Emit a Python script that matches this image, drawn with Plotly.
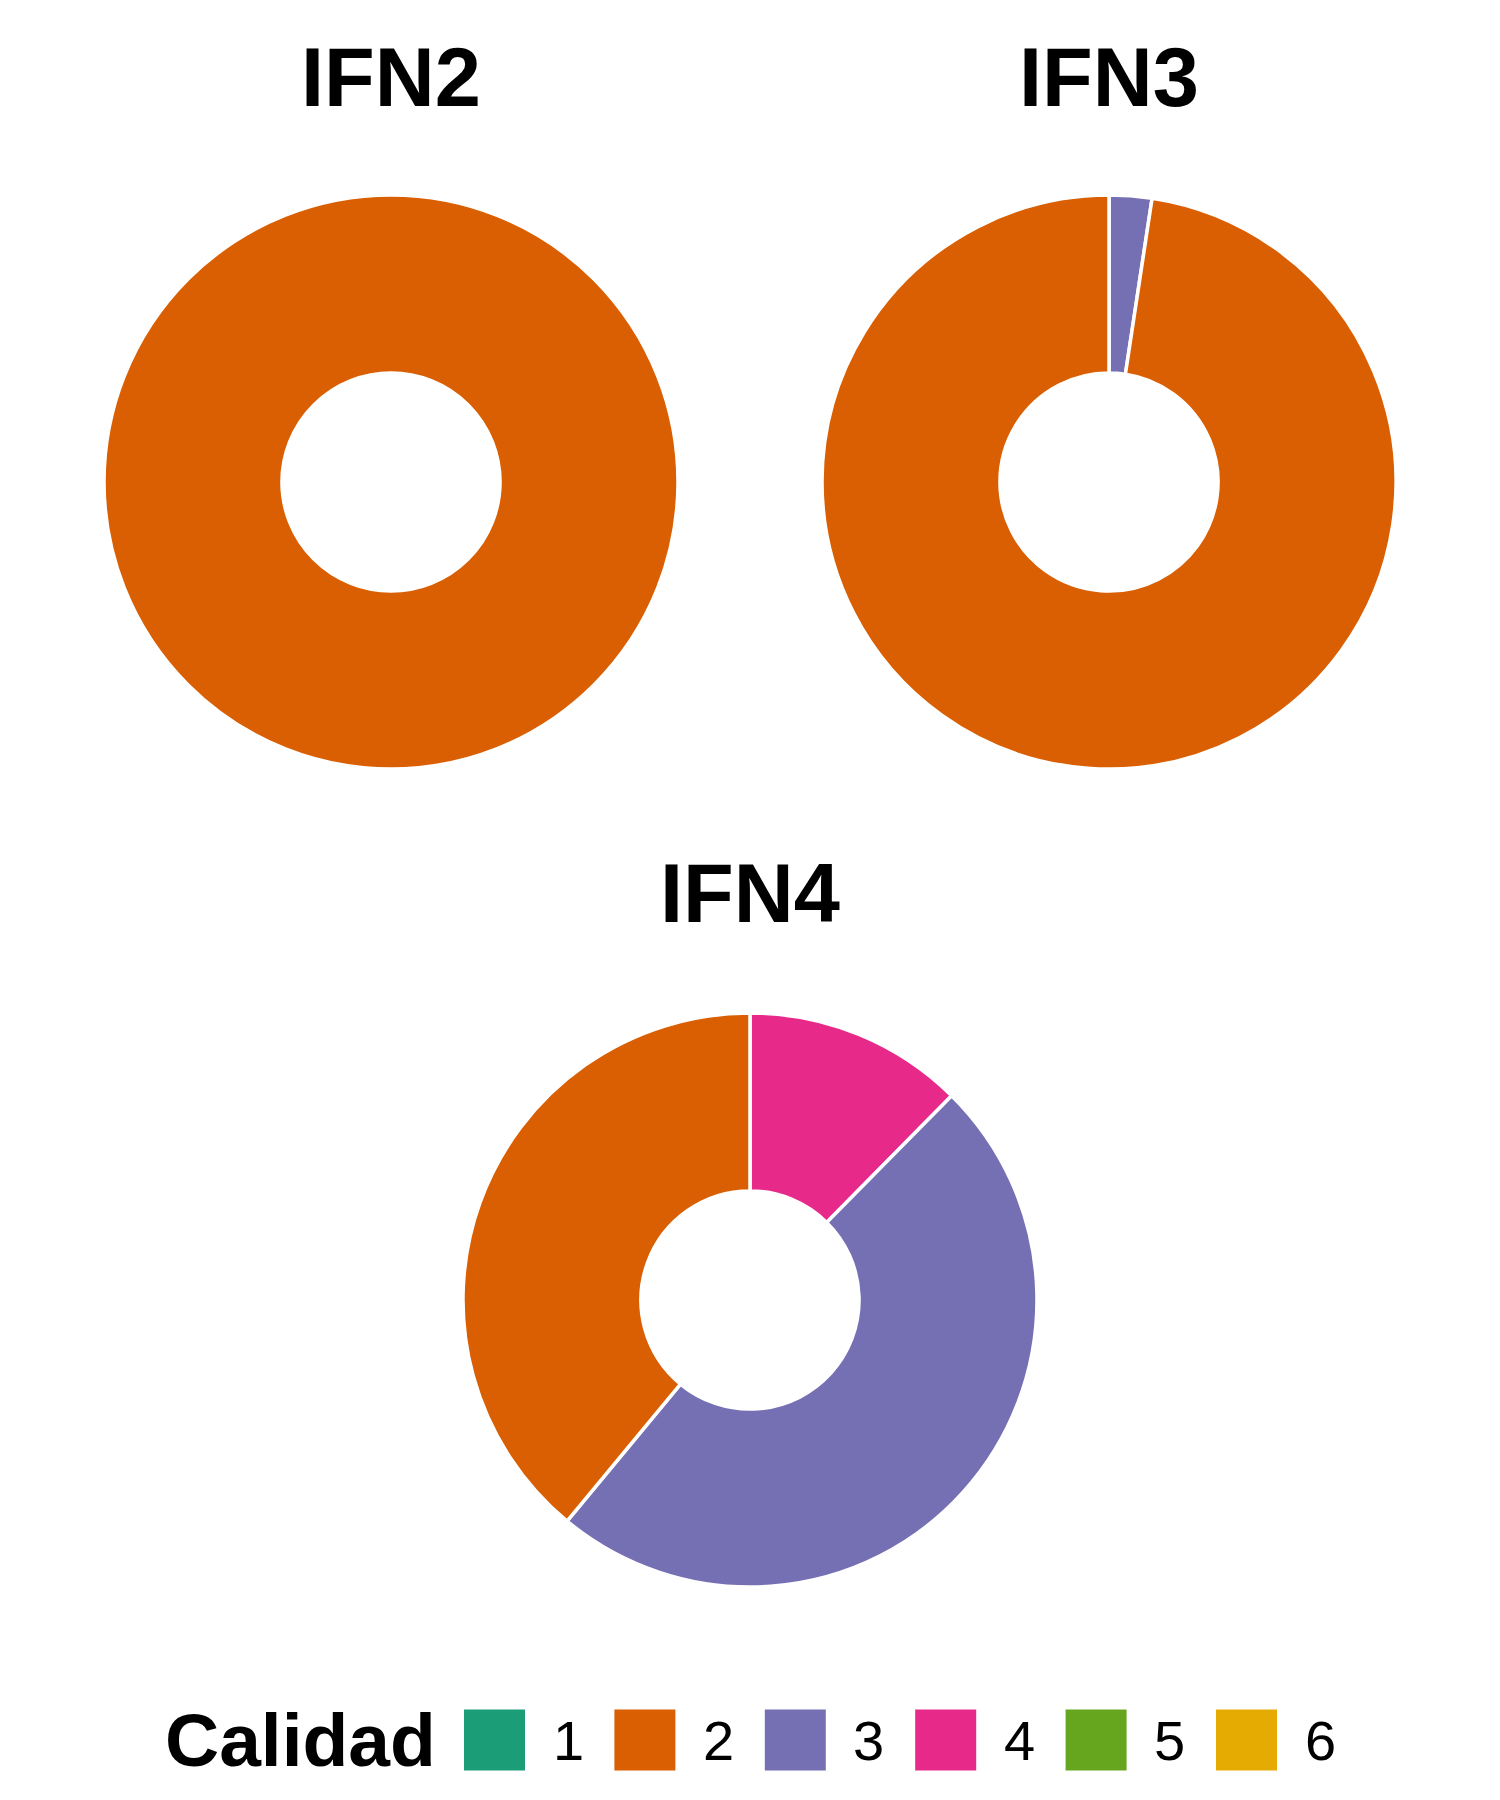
import plotly.graph_objects as go

# ---- data ----
categorias = ["1", "2", "3", "4", "5", "6"]
colores = ["#1B9E77", "#D95F02", "#7570B3", "#E7298A", "#66A61E", "#E6AB02"]
inventarios = ["IFN2", "IFN3", "IFN4"]
ifn2 = [0, 100.0, 0, 0, 0, 0]
ifn3 = [0, 97.6, 2.4, 0, 0, 0]
ifn4 = [0, 39.0, 48.6, 12.4, 0, 0]
valores = [ifn2, ifn3, ifn4]

W, H = 1500, 1800
FONT = "Liberation Sans, Arial, Helvetica, sans-serif"

def px(x):
    return x / W

def py(y):
    return 1 - y / H

# donut placement (pixel centres, radius)
centros = [(391, 482), (1109, 482), (750, 1300)]
R = 287
titulo_y = [77, 77, 893]

fig = go.Figure()
for nombre, vals, (cx, cy) in zip(inventarios, valores, centros):
    labs, vs, cols = [], [], []
    # clockwise from 12 o'clock: highest category first
    for c, v, col in reversed(list(zip(categorias, vals, colores))):
        if v > 0:
            labs.append(c)
            vs.append(v)
            cols.append(col)
    fig.add_trace(go.Pie(
        labels=labs, values=vs, sort=False, direction="clockwise", rotation=0,
        hole=0.38, textinfo="none", showlegend=False, name=nombre,
        marker=dict(colors=cols, line=dict(color="white", width=3.5)),
        domain=dict(x=[px(cx - R), px(cx + R)], y=[py(cy + R), py(cy - R)]),
    ))

annotations = []
for nombre, (cx, cy), ty in zip(inventarios, centros, titulo_y):
    annotations.append(dict(
        text=f"<b>{nombre}</b>", x=px(cx), y=py(ty), xref="paper", yref="paper",
        xanchor="center", yanchor="middle", showarrow=False,
        font=dict(family=FONT, size=83, color="black"),
    ))

# legend built manually (large keys)
leg_y = 1740
annotations.append(dict(
    text="<b>Calidad</b>", x=px(163), y=py(leg_y), xref="paper", yref="paper",
    xanchor="left", yanchor="middle", showarrow=False,
    font=dict(family=FONT, size=75, color="black"),
))
shapes = []
for i, (c, col) in enumerate(zip(categorias, colores)):
    x0 = 464 + 150.4 * i
    shapes.append(dict(
        type="rect", xref="paper", yref="paper",
        x0=px(x0), x1=px(x0 + 61), y0=py(leg_y + 30.5), y1=py(leg_y - 30.5),
        fillcolor=col, line=dict(width=0),
    ))
    annotations.append(dict(
        text=c, x=px(x0 + 104), y=py(leg_y), xref="paper", yref="paper",
        xanchor="center", yanchor="middle", showarrow=False,
        font=dict(family=FONT, size=56, color="black"),
    ))

fig.update_layout(
    width=W, height=H, margin=dict(l=0, r=0, t=0, b=0),
    paper_bgcolor="white", plot_bgcolor="white",
    annotations=annotations, shapes=shapes, showlegend=False,
)

fig.write_html("out.html")
